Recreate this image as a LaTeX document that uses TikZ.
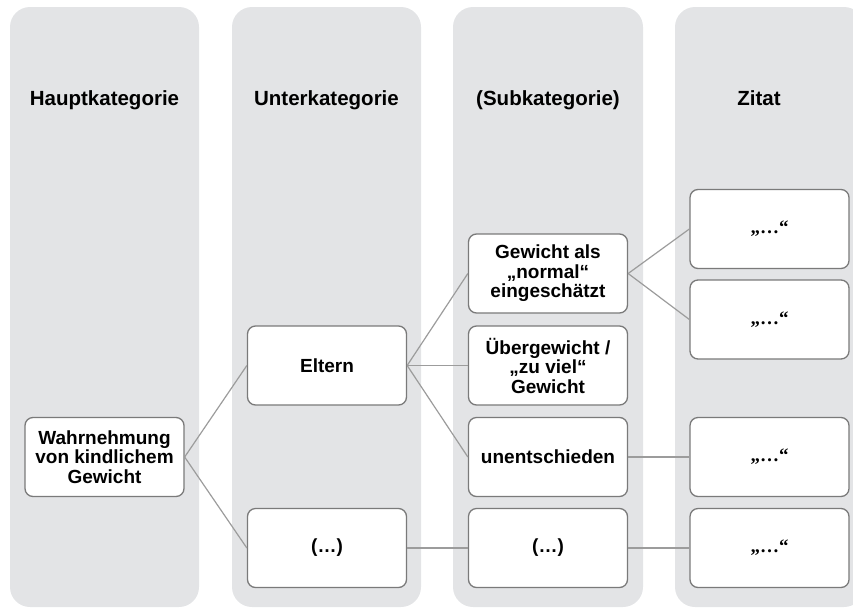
\documentclass[tikz,border=0pt]{standalone}
\usepackage{fontspec}
\setmainfont{Liberation Sans}
\newfontfamily\quotefont{Liberation Serif}
\definecolor{colbg}{HTML}{E3E4E6}
\definecolor{boxline}{HTML}{7A7A7A}
\definecolor{conn}{HTML}{9C9C9C}
\begin{document}
\begin{tikzpicture}[x=1pt,y=-1pt,
  col/.style={fill=colbg, rounded corners=20pt},
  box/.style={draw=boxline, line width=1.3pt, fill=white, rounded corners=8pt,
    minimum width=159pt, minimum height=79pt, align=center, inner sep=0pt,
    font=\fontsize{19}{19.5}\selectfont\bfseries},
  qbox/.style={box, font=\fontsize{19}{19.5}\selectfont\quotefont\bfseries},
  head/.style={font=\fontsize{20.5}{24}\selectfont\bfseries, inner sep=0pt, anchor=base},
  link/.style={draw=conn, line width=1.2pt}]
\useasboundingbox (0,0) rectangle (853,608);
\clip (0,0) rectangle (853,608);
% columns
\fill[col] (10,7) rectangle (199,607);
\fill[col] (232,7) rectangle (421,607);
\fill[col] (453,7) rectangle (643,607);
\fill[col] (675,7) rectangle (864,607);
% headers
\node[head] (h1) at (104.5,105) {Hauptkategorie};
\node[head] (h2) at (326.5,105) {Unterkategorie};
\node[head] (h3) at (548,105) {(Subkategorie)};
\node[head] (h4) at (759,105) {Zitat};
% nodes
\node[box] (w) at (104.5,457) {Wahrnehmung\\von kindlichem\\Gewicht};
\node[box] (eltern) at (327,365.5) {Eltern};
\node[box] (d2) at (327,548) {(\dots)};
\node[box] (gew) at (548,273.5) {Gewicht als\\„normal“\\eingeschätzt};
\node[box] (ueber) at (548,365.5) {Übergewicht /\\„zu viel“\\Gewicht};
\node[box] (unent) at (548,457) {unentschieden};
\node[box] (d3) at (548,548) {(\dots)};
\node[qbox] (q1) at (769.5,229) {„…“};
\node[qbox] (q2) at (769.5,319.5) {„…“};
\node[qbox] (q3) at (769.5,457) {„…“};
\node[qbox] (q4) at (769.5,548) {„…“};
% connectors
\draw[link] (w.east) -- (eltern.west);
\draw[link] (w.east) -- (d2.west);
\draw[link] (eltern.east) -- (gew.west);
\draw[link] (eltern.east) -- (ueber.west);
\draw[link] (eltern.east) -- (unent.west);
\draw[link] (d2.east) -- (d3.west);
\draw[link] (gew.east) -- (q1.west);
\draw[link] (gew.east) -- (q2.west);
\draw[link] (unent.east) -- (q3.west);
\draw[link] (d3.east) -- (q4.west);
\end{tikzpicture}
\end{document}
